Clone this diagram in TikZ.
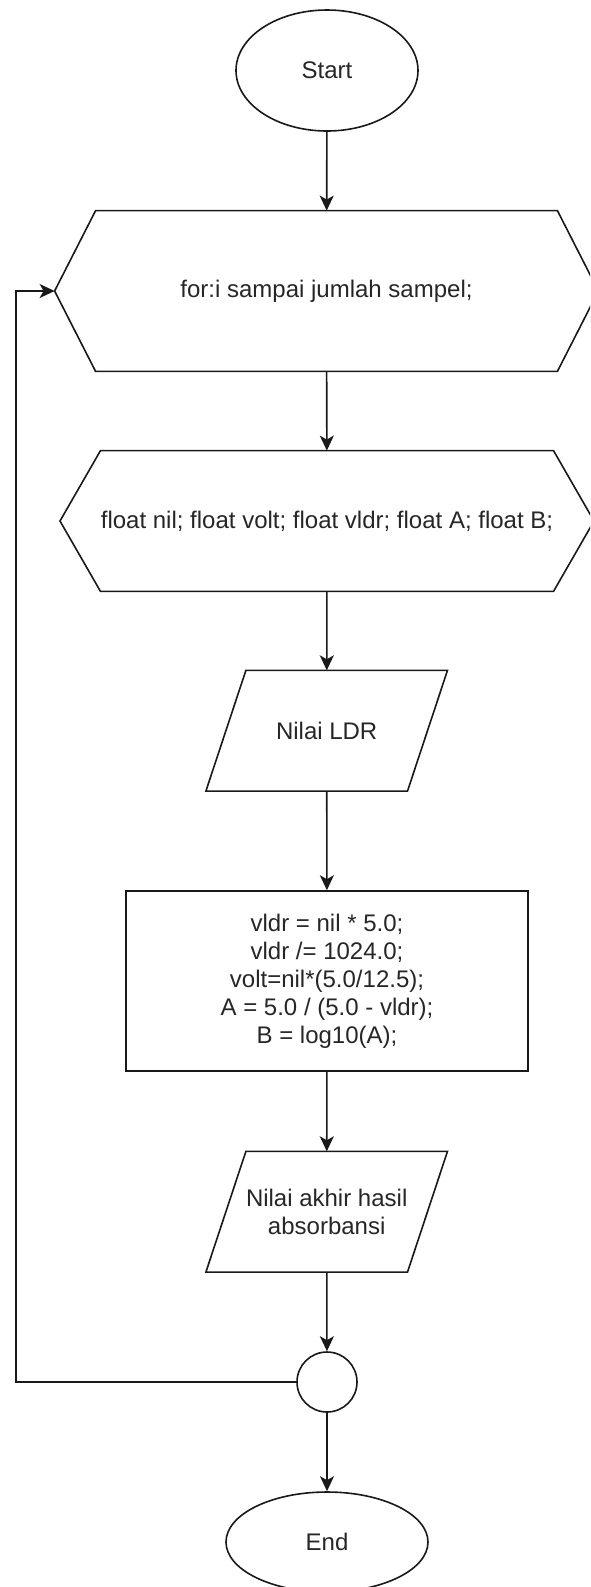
\documentclass[tikz,border=0pt]{standalone}
\usepackage{fontspec}
\setmainfont{Liberation Sans}
\usetikzlibrary{shapes.geometric,calc,arrows.meta}
\begin{document}
\begin{tikzpicture}[x=0.5pt,y=-0.5pt,
  line/.style={draw=black!90,line width=0.8pt},
  arr/.style={line,-{Stealth[length=7.5pt,width=7pt,inset=2pt]}},
  txt/.style={font=\fontsize{12}{14.05}\selectfont,text=black!85,align=center,inner sep=0pt},
  box/.style={txt,rectangle},
  oval/.style={txt,ellipse,line},
]
\useasboundingbox (0,0) rectangle (590,1587);
\begin{scope}
\clip (0,0) rectangle (590,1587);
\node[oval,minimum width=91pt,minimum height=60.5pt] (start) at (327,70.5) {Start};
\node[box,minimum width=230.5pt,minimum height=80pt] (h1) at (326.5,291) {for:i sampai jumlah sampel;};
\node[box,minimum width=220.5pt,minimum height=70pt] (h2) at (327,521) {float nil; float volt; float vldr; float A; float B;};
\node[box,minimum width=100.4pt,minimum height=60pt] (p1) at (326.7,730.7) {Nilai LDR};
\node[box,line,minimum width=201pt,minimum height=90pt] (r) at (327,981) {vldr = nil * 5.0;\\vldr /= 1024.0;\\volt=nil*(5.0/12.5);\\A = 5.0 / (5.0 - vldr);\\B = log10(A);};
\node[box,minimum width=100.4pt,minimum height=60pt] (p2) at (326.7,1211.7) {Nilai akhir hasil\\absorbansi};
\node[circle,line,minimum size=30pt,inner sep=0pt] (c) at (327,1382) {};
\node[oval,minimum width=101pt,minimum height=50pt] (end) at (327,1542) {End};

% shape outlines
\draw[line] (h1.north west) -- (h1.north east) -- ($(h1.east)+(41,0)$) -- (h1.south east) -- (h1.south west) -- ($(h1.west)+(-41,0)$) -- cycle;
\draw[line] (h2.north west) -- (h2.north east) -- ($(h2.east)+(40.5,0)$) -- (h2.south east) -- (h2.south west) -- ($(h2.west)+(-40.5,0)$) -- cycle;
\draw[line] ($(p1.north west)+(20,0)$) -- ($(p1.north east)+(20,0)$) -- ($(p1.south east)+(-20,0)$) -- ($(p1.south west)+(-20,0)$) -- cycle;
\draw[line] ($(p2.north west)+(20,0)$) -- ($(p2.north east)+(20,0)$) -- ($(p2.south east)+(-20,0)$) -- ($(p2.south west)+(-20,0)$) -- cycle;

\coordinate (h1tip) at ($(h1.west)+(-41,0)$);
\coordinate (loop) at (15.8,1382);

% connectors
\draw[arr] (start) -- (h1);
\draw[arr] (h1) -- (h2);
\draw[arr] (h2) -- (p1);
\draw[arr] (p1) -- (r);
\draw[arr] (r) -- (p2);
\draw[arr] (p2) -- (c);
\draw[arr] (c) -- (end);
\draw[arr] (c.west) -- (loop) |- (h1tip);
\end{scope}
\end{tikzpicture}
\end{document}
